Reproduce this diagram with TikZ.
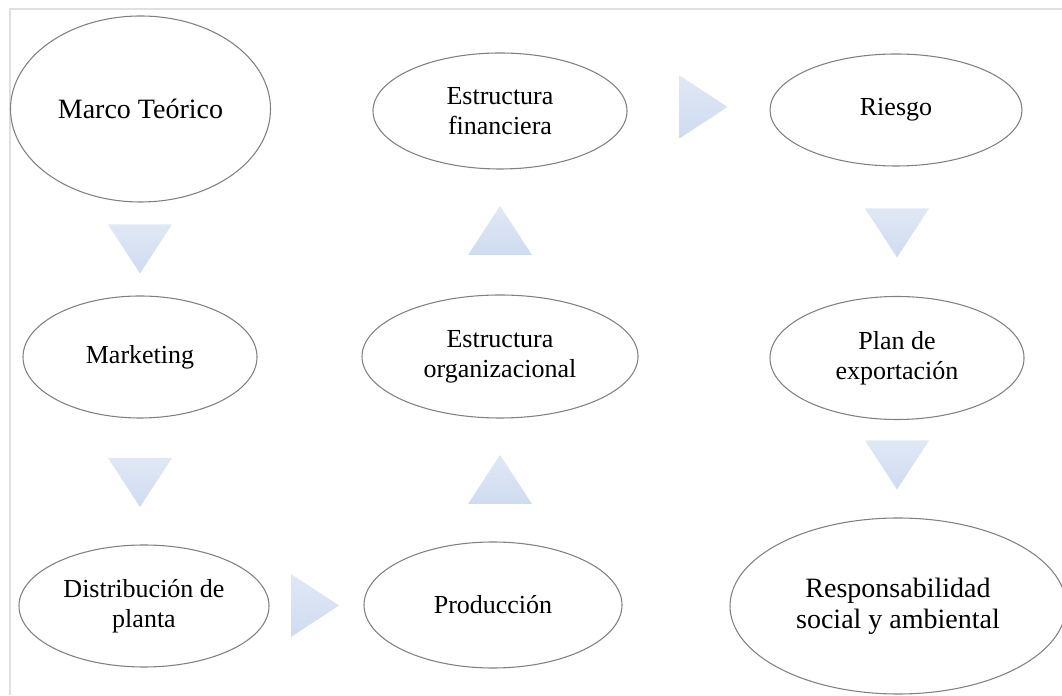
\documentclass[tikz,border=0pt]{standalone}
\usepackage{fontspec}
\setmainfont{Liberation Serif}
\usetikzlibrary{shapes.geometric}
\definecolor{EllClr}{rgb}{0.5,0.5,0.5}
\definecolor{FrameClr}{rgb}{0.88,0.88,0.88}
\definecolor{TriTopClr}{rgb}{0.88,0.91,0.96}
\definecolor{TriBotClr}{rgb}{0.81,0.86,0.94}

\tikzset{
  ell/.style={ellipse,draw=EllClr,line width=0.8pt,inner sep=0pt,align=center,
    font=\fontsize{19.5}{22.5}\selectfont},
  bigell/.style={ell,font=\fontsize{21}{23}\selectfont},
  tri/.style={top color=TriTopClr,bottom color=TriBotClr,draw=none}
}

\begin{document}
\begin{tikzpicture}[x=1pt,y=1pt,scale=.75]
\useasboundingbox (0,0) rectangle (1062,695);

% frame
\draw[FrameClr,line width=1pt] (10,0) -- (10,686) -- (1062,686);

% column 1
\node[bigell,minimum width=195pt,minimum height=139.5pt] (MT) at (140.5,586) {Marco Teórico};
\node[ell,minimum width=175.5pt,minimum height=91.5pt] (MK) at (140,338) {Marketing};
\node[ell,minimum width=187.5pt,minimum height=91.5pt] (DP) at (144,89) {Distribución de\\planta};

% column 2
\node[ell,minimum width=193.5pt,minimum height=94.5pt] (PR) at (493,90) {Producción};
\node[ell,minimum width=207pt,minimum height=92.25pt] (EO) at (500,338.5) {Estructura\\organizacional};
\node[ell,minimum width=190.5pt,minimum height=87pt] (EF) at (500,584) {Estructura\\financiera};

% column 3
\node[ell,minimum width=189pt,minimum height=84pt] (RI) at (896,585) {Riesgo};
\node[ell,minimum width=190.5pt,minimum height=92.25pt] (PE) at (897,337) {Plan de\\exportación};
\node[bigell,minimum width=252pt,minimum height=132pt] (RS) at (898,89) {Responsabilidad\\social y ambiental};

% triangles
\coordinate (T1) at (140,446);
\coordinate (T2) at (140,212.5);
\coordinate (T3) at (315,89.5);
\coordinate (T4) at (500,215.5);
\coordinate (T5) at (500,464.5);
\coordinate (T6) at (703.5,588);
\coordinate (T7) at (897,462);
\coordinate (T8) at (897,230);

\foreach \t in {T1,T2,T7,T8}
  \shade[tri] (\t) ++(-32,24.5) -- ++(64,0) -- ++(-32,-49) -- cycle;
\foreach \t in {T4,T5}
  \shade[tri] (\t) ++(-32,-24.5) -- ++(64,0) -- ++(-32,49) -- cycle;
\foreach \t in {T3,T6}
  \shade[tri] (\t) ++(-24,31.5) -- ++(48,-31.5) -- ++(-48,-31.5) -- cycle;

\end{tikzpicture}
\end{document}
